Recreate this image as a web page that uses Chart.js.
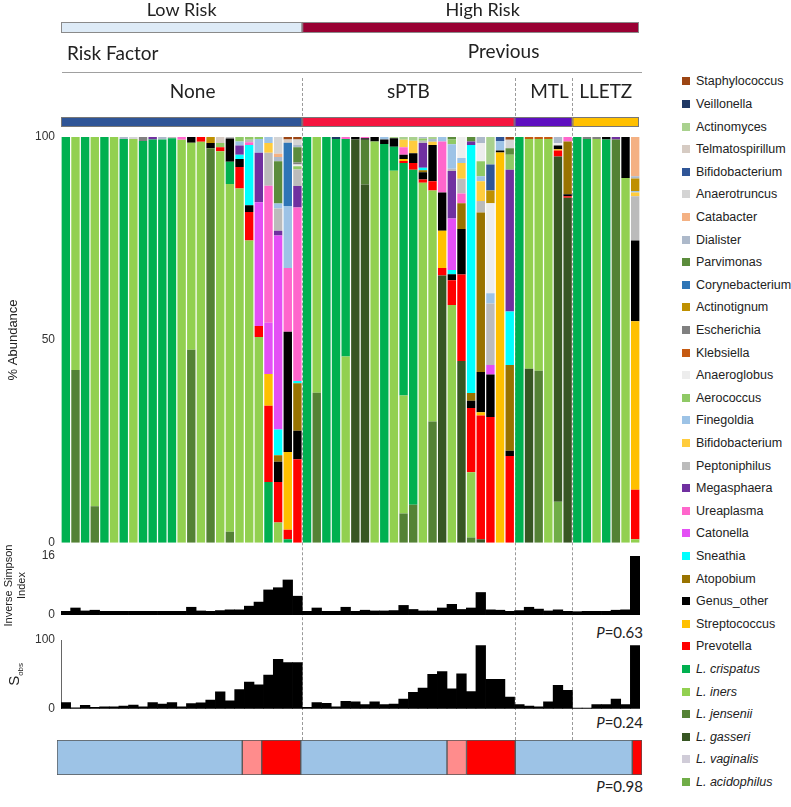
<!DOCTYPE html>
<html>
<head>
<meta charset="utf-8">
<script src="https://cdn.jsdelivr.net/npm/chart.js@4.4.1/dist/chart.umd.min.js"></script>
<style>
  body { margin: 0; background: #fff; width: 791px; height: 807px; position: relative; overflow: hidden;
         font-family: "Liberation Sans", Arial, sans-serif; }
  canvas { position: absolute; left: 0; z-index: 1; }
  .vline { position: absolute; border-left: 1px dashed #9a9a9a; z-index: 0; }
  .item { position: absolute; left: 682px; height: 16px; line-height: 16px; font-size: 12.5px; color: #222; white-space: nowrap; }
  .sw { display: inline-block; width: 8px; height: 8px; margin-right: 6px; vertical-align: 0px; }
  .pval { position: absolute; right: 148px; font-family: Lato, sans-serif; font-size: 15px; color: #222; }
</style>
</head>
<body>
<canvas id="main" width="660" height="556" style="top:0px"></canvas>
<canvas id="simpson" width="660" height="92" style="top:538px"></canvas>
<canvas id="sobs" width="660" height="100" style="top:622px"></canvas>
<canvas id="strip" width="660" height="40" style="top:738px"></canvas>
<div class="pval" style="top:623px"><i>P</i>=0.63</div>
<div class="pval" style="top:713px"><i>P</i>=0.24</div>
<div class="pval" style="top:777px"><i>P</i>=0.98</div>

<script>
// groups of samples (None | sPTB | MTL | LLETZ)
const groupNames = ['None', 'sPTB', 'MTL', 'LLETZ'];
const groupSizes = [25, 22, 6, 7];
const riskNames = ['Low Risk', 'High Risk'];
const riskGroupCounts = [1, 3];

// relative abundance (%) per sample, one array per taxon
// each array: None (25) | sPTB (22) | MTL (6) | LLETZ (7)
const staphylococcus = [
  0,0,0,0,0, 0,0,0,0,0, 0,0,0,0,0, 0,0,0,0,0, 0,0,0,0.6,0.6,
  0,0,0,0,0, 0,0,0,0,0, 0,0,0,0,0, 0,0,0,0,0, 0,0.7,
  0,0,0,0,0,0,
  0,0,0,0,0,0,0];
const veillonella = [
  0,0,0,0,0, 0,0,0,0,0, 0,0,0,0,0, 0,0,0,0,0, 0,0,0,0,0,
  0,0,0,0.5,0, 0,0,0,0,0, 0,0,0,0,0, 0,0,0,0,0, 0,0,
  0,0,0,0,0,0,
  0,0,0,0,0,0,0];
const actinomyces = [
  0,0,0,0,0, 0,0,0,0,0, 0,0,0,0,0, 0,0,0,0,0, 0,0,0,0,0,
  0,0,0,0,0, 0,0,0,0,0.3, 1,0.9,0,0.5,0, 0,0,0,0,6.8, 0,0,
  0,0,0,0,0,0,
  0,0,0,0,0,0,0];
const telmatospirillum = [
  0,0,0,0,0, 0,0,0,0,0, 0,0,0,0,0, 0,1.5,0,0,0, 0,0,0,0.8,0,
  0,0,0,0,0, 0,0,0,0,0, 0,0,0,0,0, 0,0,0,0,0, 0,0,
  0,0,0,0,0,0,
  0,0,0,0,0,0,0];
const bifidobacteriumBlue = [
  0,0,0,0,0, 0,0,0,0,0, 0,0,0,0,0, 0,0,0,0,0, 0,0,0,0,0,
  0,0,0,0,0, 0,0,0,0,0, 0,0,0,0,0, 0,0,0,0,6.4, 1,0,
  0,0,0,0,0,0,
  0,0,0,0,0,0,0];
const anaerotruncus = [
  0,0,0,0,0, 0,0,0.5,0,0, 0,0,0,0,0, 0,0,0,0,0, 0,0,4.1,0,1.4,
  0,0,0,0,0, 0,0,0,0,0, 0,0,0,0,0, 0,0,0,0,0, 0,2.1,
  0,0,0,0,0,0,
  0,0,0,0,0,0,0];
const catabacter = [
  0,0,0,0,0, 0,0,0,0,0, 0,0,0,0,0, 0,0,0,0,0, 0,0,0.8,0,0,
  0,0,0,0,0, 0,0,0,0,0, 0,0,0,0,0, 0,0,0,0,0, 0,0,
  0,0,0,0,0,0,
  0,0,0,0,0,0,9.7];
const dialister = [
  0,0,0,0,0, 0,0.5,0,0,0, 0.6,0,0,0,0, 0,0,0,0,0, 0,0,1.1,0,0.5,
  0,0,0,0,0, 0,0,0,0,0, 0,0,0.4,0.7,0, 0,0,0,1.5,0, 0,0,
  0,0,0,0,1.5,0,
  0,0,0,0,0,0,0.5];
const parvimonas = [
  0,0,0,0,0, 0,0,0,0,0, 0,0,0,0,0, 0,0,0,0,0, 0,0,10.4,0,3.8,
  0,0,0,0,0, 0,0,0,0,0, 0,0,0,0,0, 0.6,0,1.1,0,0, 0,1.6,
  0,0,0,0,0,0,
  0,0,0,0,0,0,0];
const corynebacterium = [
  0,0,0,0,0, 0,0,0,0,0, 0,0,0,0,0, 0,0,0,0,0, 0,0,0,15.6,0,
  0,0,0,0,0, 0,0,0,0,0, 0,0,0,0,0, 0,0,0,0,0, 0,0,
  0,0,0,0,0,0,
  0,0,0,0,0,0,0];
const actinotignum = [
  0,0,0,0,0, 0,0,0,0,0, 0,0,0,0,0, 1.5,0,0,0,0, 0,0,0,0,0,
  0,0,0,0,0, 0,0,0,0,0, 0,0,0,0,0, 0,0,0,0,3.1, 0,0,
  0,0,0,0,0,0,
  0,0,0,0,0,0,3.1];
const escherichia = [
  0,0,0,0,0, 0,0,0,1,0, 0,0,0,0,0, 0,0,0,0,0, 0,0,0,0,0.5,
  0,0,0,0,0, 0,0,0,0,0, 0,0,0,0,0, 0,0,0,0,0, 0,0,
  0,0,0,0,0,0,
  0,0.5,0.5,0,0,0,0];
const klebsiella = [
  0,0,0,0,0, 0,0,0,0,0, 0,0,0,0,0, 0,0,0,0,0, 0,0,0,0,0,
  0,0,0,0,0, 0,0,0,0,0, 0,0,0,0,0, 0,0,0,0,0, 0,0,
  0,0.5,0.5,0.5,0,0,
  0,0,0,0,0,0,0];
const anaeroglobus = [
  0,0,0,0,0, 0,0,0,0,0, 0,0,0,0,0, 0,0,0,0,0, 0,0,0,0,0.4,
  0,0,0,0,0, 0,0,0,0,0, 0,0,0,0,0, 0,5.2,0,4.5,22.2, 0,0,
  0,0,0,0,0.6,0,
  0,0,0,0,0,0,0];
const aerococcus = [
  0,0,0,0,0, 0,0,0,0,0, 0,0,0,0,0, 0,1,0,1.1,0.7, 0.6,0,0,0,0.8,
  0,0,0,0,0, 0,0,0,0,0, 0,0,0.5,0,0, 1.2,0,0,3.7,0, 0,3.7,
  0,0,0,0,0,0,
  0,0,0,0,0,0,0];
const finegoldia = [
  0,0,0,0,0, 0,0,0,0,0, 0,0,0,0,0, 0,0,0,1,0, 3.4,1.5,1.2,15.3,0,
  0,0,0,0,0, 0,0,0,0.6,0, 0,0,0,0,1.1, 6,1.2,0,1.2,2.5, 2.3,0,
  0,0,0,0,0,0,
  0,0,0,0,0,0,0.4];
const bifidobacteriumYellow = [
  0,0,0,0,0, 0,0,0,0,0, 0,0,0,0,0, 0,0,0,0,0, 0,2.4,0,0,0,
  0,0,0,0,0, 0,0,0,0,0, 1.8,3.1,0,0.8,0, 0,3.9,0,4.9,0, 0,0,
  0,0,0,0,0,0,
  0,0,0,0,0,0,0.9];
const peptoniphilus = [
  0,0,0,0,0, 0,0,0,0,0, 0,0.3,0,0,0, 0,0,0.4,0,0.6, 0,8.1,5.5,0,4.1,
  0,0,0,0,0, 0,0,0,0,0, 0,0,0.6,0,0, 0.6,3.6,0,2.8,15.2, 0,0,
  0,0,0,0,0,0,
  0,0,0,0,0,0,10.9];
const megasphaera = [
  0,0,0,0,0, 0,0,0,0,0.6, 0,0,0,0,0, 0,0,0,2.3,0, 12.2,0,1.2,0,5.3,
  0,0,0,0,0, 0,0,0,0,0, 0,0,6.1,0,0, 11.7,0,0.9,0,0, 0,34.9,
  0,0,0,0,0,0,
  0,0,0,0,0.6,0,0];
const ureaplasma = [
  0,0,0,0,0, 0,0,0,0,0, 0,0,0.7,0,0, 0,0,0,0,0.7, 0,33.8,0,15.7,42.7,
  0,0,0,0,0.5, 0,0.3,0,0,0, 1.9,0,0,0,12.6, 0,2.4,0,0,0, 0,0,
  0,0,0,0,0,1.1,
  0,0,0,0,0,0,0];
const catonella = [
  0,0,0,0,0, 0,0,0,0,0, 0,0,0,0,0, 0,0,0,0,0, 30.5,12.6,47.8,0,0,
  0,0,0,0,0, 0,0,0,0,0, 0,0,0,0,0, 12.7,0,0,0,2.3, 0,0,
  0,0,0,0,0,0,
  0,0,0,0,0,0,0];
const sneathia = [
  0,0,0,0,0, 0,0,0,0,0, 0,0,0,0,0, 0,0,0,1,14.8, 0,0,6.3,0,0.6,
  0,0,0,0,0, 0,0,0,0,0, 0,0,0.6,0,0, 1,0,61.1,0,0, 0,13.2,
  0,0,0,0,0,0,
  0,0,0,0,0,0,0];
const atopobium = [
  0,0,0,0,0, 0,0,0,0,0, 0,0,0,0,0, 0,0,0,0,0, 0,0,1.6,0,11.7,
  0,0,0,0,0, 0,0,0,0,0, 0,0,0.5,0,0, 0,6.4,1.9,39.3,0, 0,21.1,
  0,0,0,0,0,13,
  0,0,0,0,0,0,0];
const genusOther = [
  0,0,0,0,0, 0,0,0,0,0, 0,0,0,1.4,0, 1.3,0,5.7,2,1.7, 0,0,5,29.6,7,
  0,0,0,0,0, 0.6,0.4,1.1,1.1,2.1, 1,2.4,1.8,8.9,9.4, 1.5,11.2,1.8,9.9,10.5, 0.5,1.3,
  0,0,0,0,0.9,0.5,
  0,0,0,0.6,0,10.1,19.9];
const streptococcus = [
  0,0,0,0,0, 0,0,0,0,0, 0,0,0,0,0, 0,0,0,0,0, 0,7.8,0,19.2,0,
  0,0,0,0,0, 0,0,0,0,0, 0.5,0,0,0,9.2, 0,0,0,0.8,0, 96.2,0,
  0,0,0,0,0.3,0,
  0,0,0,0,0,0,41.5];
const prevotella = [
  0,0,0,0,0, 0,0,0,0,0, 0,0,0,0,1.2, 0,1,0,5.3,7, 2.7,18.8,10,2.3,20.6,
  0,0,0,0,0, 0,0,0,0,0, 0.5,1.7,0.8,2.3,1.8, 6.1,21.3,15.8,30.5,31, 0,21.4,
  0,0,0,0,1.5,0.4,
  0,0,0,0,0,0,12.2];
const lCrispatus = [
  100,0,100,0,100, 0,99.5,0,99,99.4, 99.4,99.7,0,0,0, 0,0,5.5,0,0, 0,15,0,0.9,0,
  100,0,100,99.5,53.6, 0,0,0,98.3,5.9, 57.3,82.5,0,0,0, 0,0,0,0,0, 0,0,
  100,0,0,0,0,0,
  100,99.5,0,99.4,0,0,0];
const lIners = [
  0,57.4,0,91,0, 100,0,99.5,0,0, 0,0,99.3,51,98.8, 0,96.5,85.7,87.3,74.5, 50.7,0,5,0,0,
  0,63,0,0,45.9, 0,0,98.9,0,91.7, 29.1,0,88.7,56.9,0, 58.6,0,16.1,0,0, 0,0,
  0,56.6,57.1,99.5,0,0,
  0,0,99.5,0,0,89.9,0.9];
const lJensenii = [
  0,42.6,0,9,0, 0,0,0,0,0, 0,0,0,47.6,0, 97.2,0,2.7,0,0, 0,0,0,0,0,
  0,37,0,0,0, 0,11,0,0,0, 7.2,9.4,0,29.9,0, 0,0,1.3,0,0, 0,0,
  0,0,42.4,0,0,0,
  0,0,0,0,99.4,0,0];
const lGasseri = [
  0,0,0,0,0, 0,0,0,0,0, 0,0,0,0,0, 0,0,0,0,0, 0,0,0,0,0,
  0,0,0,0,0, 99.4,88.3,0,0,0, 0,0,0,0,65.9, 0,44.8,0,0.9,0, 0,0,
  0,42.9,0,0,85.1,85,
  0,0,0,0,0,0,0];
const lVaginalis = [
  0,0,0,0,0, 0,0,0,0,0, 0,0,0,0,0, 0,0,0,0,0, 0,0,0,0,0,
  0,0,0,0,0, 0,0,0,0,0, 0,0,0,0,0, 0,0,0,0,0, 0,0,
  0,0,0,0,0,0,
  0,0,0,0,0,0,0];
const lAcidophilus = [
  0,0,0,0,0, 0,0,0,0,0, 0,0,0,0,0, 0,0,0,0,0, 0,0,0,0,0,
  0,0,0,0,0, 0,0,0,0,0, 0,0,0,0,0, 0,0,0,0,0, 0,0,
  0,0,0,0,10.1,0,
  0,0,0,0,0,0,0];

// diversity panels
const inverseSimpson = [
  1,1.9,1.1,1.3,1, 1,1,1,1,1, 1,1,1,2.1,1.1, 1,1.2,1.4,1.4,2.4, 3.5,6.8,7.4,9.5,5.1,
  1,1.9,1,1,2.1, 1,1.3,1.1,1.1,1.2, 2.6,1.5,1.1,1.1,1.9, 2.9,1.5,1.9,6.1,1.4, 1.3,1,
  1.2,2.1,1.6,1.1,1.4,1,
  0.9,1,1,1,1.3,1.4,16];
const sobs = [
  9,1.5,5,2,3, 3,4,5.5,3,9, 7,9,3,7.5,8.5, 12.5,24.5,11.5,28,39, 35,49,72,67,67,
  2,9,8,3,11, 10,6,10,6,7, 14,24,30,50,54, 29,51,25,92,43, 43,17,
  6,4,3,10,34,27,
  1,1,6,6,14,6,92];

// community state strip: counts of samples per segment
const stripCounts = [19, 2, 4, 15, 2, 5, 12, 1];

// legend order (top to bottom)
const taxaNames = ['Staphylococcus','Veillonella','Actinomyces','Telmatospirillum','Bifidobacterium',
  'Anaerotruncus','Catabacter','Dialister','Parvimonas','Corynebacterium','Actinotignum','Escherichia',
  'Klebsiella','Anaeroglobus','Aerococcus','Finegoldia','Bifidobacterium','Peptoniphilus','Megasphaera',
  'Ureaplasma','Catonella','Sneathia','Atopobium','Genus_other','Streptococcus','Prevotella',
  'L. crispatus','L. iners','L. jensenii','L. gasseri','L. vaginalis','L. acidophilus'];
const taxaData = [staphylococcus, veillonella, actinomyces, telmatospirillum, bifidobacteriumBlue,
  anaerotruncus, catabacter, dialister, parvimonas, corynebacterium, actinotignum, escherichia,
  klebsiella, anaeroglobus, aerococcus, finegoldia, bifidobacteriumYellow, peptoniphilus, megasphaera,
  ureaplasma, catonella, sneathia, atopobium, genusOther, streptococcus, prevotella,
  lCrispatus, lIners, lJensenii, lGasseri, lVaginalis, lAcidophilus];
const taxaColors = ['#9C4513','#1F3864','#A9D18E','#D6CBC3','#2F5597','#D4D4D4','#F4B183','#ADB9CA',
  '#5B8C3C','#2E75B6','#BF9000','#808080','#C55A11','#EDEDED','#8FC965','#9DC3E6','#FFCC3D','#BBBBBB',
  '#7030A0','#FF66CC','#E44FF5','#00FFFF','#997300','#000000','#FFC000','#FF0000',
  '#00B050','#92D050','#548235','#375623','#D0CCD8','#70AD47'];
const groupColors = ['#2F5597', '#F5153F', '#5E0FC0', '#FFC000'];
const riskColors = ['#DEEBF7', '#990033'];
const stripColors = ['#9DC3E6','#FF8C8C','#FF0000','#9DC3E6','#FF8C8C','#FF0000','#9DC3E6','#FF0000'];

const sampleLabels = [];
groupNames.forEach((g, gi) => { for (let i = 0; i < groupSizes[gi]; i++) sampleLabels.push(g + ' ' + (i + 1)); });

function groupEdges(chart) {
  const x = chart.scales.x, area = chart.chartArea;
  const edges = [area.left];
  let n = 0;
  groupSizes.forEach(size => {
    n += size;
    edges.push(n < sampleLabels.length ? (x.getPixelForValue(n - 1) + x.getPixelForValue(n)) / 2 : area.right);
  });
  return edges;
}

const headerPlugin = {
  id: 'header',
  afterDraw(chart) {
    const ctx = chart.ctx;
    const edges = groupEdges(chart);
    const right = chart.chartArea.right - 1;
    ctx.save();
    ctx.textAlign = 'center';
    ctx.textBaseline = 'middle';
    ctx.lineWidth = 1;
    // risk bars
    let g = 0;
    riskNames.forEach((name, i) => {
      const l = edges[g];
      g += riskGroupCounts[i];
      const r = g >= groupSizes.length ? right : edges[g];
      ctx.fillStyle = riskColors[i];
      ctx.fillRect(l, 22, r - l, 11);
      ctx.strokeStyle = '#8a8a8a';
      ctx.strokeRect(l + 0.5, 22.5, r - l - 1, 10);
      ctx.fillStyle = '#222';
      ctx.font = '18px Lato';
      ctx.fillText(name, (l + r) / 2 + (i ? 12 : 0), 10);
    });
    // risk factor row
    ctx.font = '19px Lato';
    ctx.textAlign = 'left';
    ctx.fillText('Risk Factor', 67, 54);
    ctx.textAlign = 'center';
    ctx.fillText('Previous', (edges[1] + right) / 2 + 33, 52);
    ctx.strokeStyle = '#a0a0a0';
    ctx.beginPath();
    ctx.moveTo(edges[0] + 1, 72.5);
    ctx.lineTo(right + 3, 72.5);
    ctx.stroke();
    // group names and bars
    groupNames.forEach((name, i) => {
      const l = edges[i], r = i === groupNames.length - 1 ? right : edges[i + 1];
      ctx.fillStyle = '#222';
      ctx.font = '19px Lato';
      ctx.fillText(name, (l + r) / 2 + (i === 0 ? 11 : i === 2 ? 6 : 0), 92);
      ctx.fillStyle = groupColors[i];
      ctx.fillRect(l, 117, r - l, 10);
      ctx.strokeStyle = '#777';
      ctx.strokeRect(l + 0.5, 117.5, r - l - 1, 9);
    });
    ctx.restore();
  }
};

const sobsTitlePlugin = {
  id: 'sobsTitle',
  afterDraw(chart) {
    const ctx = chart.ctx, a = chart.chartArea;
    ctx.save();
    ctx.translate(19, (a.top + a.bottom) / 2);
    ctx.rotate(-Math.PI / 2);
    ctx.fillStyle = '#222';
    ctx.textBaseline = 'alphabetic';
    ctx.font = '15px "Liberation Sans"';
    const w = ctx.measureText('S').width;
    ctx.font = '8px "Liberation Sans"';
    const w2 = ctx.measureText('obs').width;
    const x0 = -(w + w2) / 2;
    ctx.font = '15px "Liberation Sans"';
    ctx.fillText('S', x0, 0);
    ctx.font = '8px "Liberation Sans"';
    ctx.fillText('obs', x0 + w, 4);
    ctx.restore();
  }
};

const tickFont = { size: 12, family: 'Liberation Sans' };

const mainChart = new Chart(document.getElementById('main'), {
  type: 'bar',
  data: {
    labels: sampleLabels,
    datasets: taxaNames.map((name, i) => ({
      label: name,
      data: taxaData[i],
      backgroundColor: taxaColors[i],
      borderWidth: 0,
      barPercentage: 0.87,
      categoryPercentage: 1
    })).reverse()
  },
  options: {
    responsive: false,
    animation: false,
    layout: { padding: { top: 137, bottom: 9, right: 20, left: 0 } },
    plugins: { legend: { display: false }, tooltip: { enabled: false } },
    scales: {
      x: { stacked: true, display: false },
      y: {
        stacked: true, min: 0, max: 100,
        ticks: { stepSize: 50, padding: 6, color: '#333', font: tickFont },
        grid: { display: false, drawTicks: false },
        border: { display: false },
        title: { display: true, text: '% Abundance', color: '#222', font: { size: 13, family: 'Liberation Sans' }, padding: { top: 6, bottom: 0 } },
        afterFit(scale) { scale.width = 61; }
      }
    }
  },
  plugins: [headerPlugin]
});

new Chart(document.getElementById('simpson'), {
  type: 'bar',
  data: {
    labels: sampleLabels,
    datasets: [{ data: inverseSimpson, backgroundColor: '#000', borderWidth: 0, barPercentage: 1, categoryPercentage: 1 }]
  },
  options: {
    responsive: false,
    animation: false,
    layout: { padding: { top: 18, bottom: 15, right: 20, left: 0 } },
    plugins: { legend: { display: false }, tooltip: { enabled: false } },
    scales: {
      x: { display: false },
      y: {
        min: 0, max: 16,
        ticks: { stepSize: 16, padding: 6, color: '#333', font: tickFont },
        grid: { display: false, drawTicks: false },
        border: { display: false },
        title: { display: true, text: ['Inverse Simpson', 'Index'], color: '#222', font: { size: 11, family: 'Liberation Sans', lineHeight: 1.2 }, padding: { top: 2, bottom: 0 } },
        afterFit(scale) { scale.width = 61; }
      }
    }
  }
});

new Chart(document.getElementById('sobs'), {
  type: 'bar',
  data: {
    labels: sampleLabels,
    datasets: [{ data: sobs, backgroundColor: '#000', borderWidth: 0, barPercentage: 1, categoryPercentage: 1 }]
  },
  options: {
    responsive: false,
    animation: false,
    layout: { padding: { top: 18, bottom: 10, right: 20, left: 0 } },
    plugins: { legend: { display: false }, tooltip: { enabled: false } },
    scales: {
      x: { display: false },
      y: {
        min: 0, max: 100,
        ticks: { stepSize: 100, padding: 6, color: '#333', font: tickFont },
        grid: { display: false, drawTicks: false },
        border: { display: true, color: '#666' },
        afterFit(scale) { scale.width = 61; }
      }
    }
  },
  plugins: [sobsTitlePlugin]
});

new Chart(document.getElementById('strip'), {
  type: 'bar',
  data: {
    labels: ['state'],
    datasets: stripCounts.map((c, i) => ({
      data: [c],
      backgroundColor: stripColors[i],
      borderColor: '#555',
      borderWidth: 1,
      borderSkipped: false,
      barPercentage: 1,
      categoryPercentage: 1
    }))
  },
  options: {
    indexAxis: 'y',
    responsive: false,
    animation: false,
    layout: { padding: { top: 2, bottom: 3, left: 57, right: 18 } },
    plugins: { legend: { display: false }, tooltip: { enabled: false } },
    scales: {
      x: { stacked: true, min: 0, max: sampleLabels.length, display: false },
      y: { stacked: true, display: false }
    }
  }
});

// dashed separators between groups, placed from the main chart's x scale
groupEdges(mainChart).slice(1, -1).forEach(px => {
  const d = document.createElement('div');
  d.className = 'vline';
  d.style.left = Math.round(px) + 'px';
  d.style.top = '78px';
  d.style.height = '662px';
  document.body.appendChild(d);
});

// legend
taxaNames.forEach((name, i) => {
  const d = document.createElement('div');
  d.className = 'item';
  d.style.top = (81.3 + 22.6 * i - 8) + 'px';
  const sw = document.createElement('span');
  sw.className = 'sw';
  sw.style.background = taxaColors[i];
  d.appendChild(sw);
  const t = document.createElement('span');
  t.textContent = name;
  if (name.startsWith('L. ')) t.style.fontStyle = 'italic';
  d.appendChild(t);
  document.body.appendChild(d);
});
</script>
</body>
</html>
